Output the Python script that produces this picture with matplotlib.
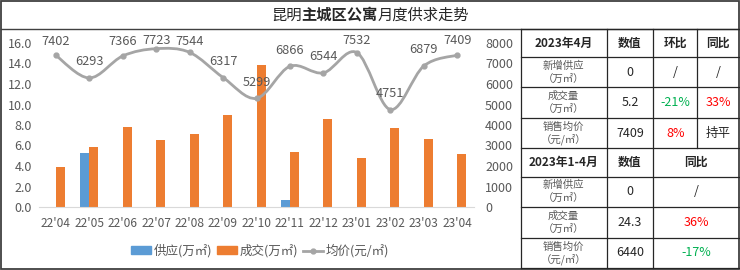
import matplotlib
matplotlib.use('Agg')
import matplotlib.pyplot as plt
from matplotlib.path import Path
from matplotlib.patches import PathPatch, Rectangle, Patch
from matplotlib.lines import Line2D

plt.rcParams['font.family'] = ['Noto Sans CJK SC', 'DejaVu Sans']

months = ["22'04", "22'05", "22'06", "22'07", "22'08", "22'09", "22'10",
          "22'11", "22'12", "23'01", "23'02", "23'03", "23'04"]
supply = [0, 5.3, 0, 0, 0, 0, 0, 0.7, 0, 0, 0, 0, 0]
deal = [3.9, 5.9, 7.8, 6.5, 7.1, 9.0, 13.9, 5.4, 8.6, 4.8, 7.7, 6.6, 5.2]
price = [7402, 6293, 7366, 7723, 7544, 6317, 5299, 6866, 6544, 7532, 4751, 6879, 7409]

t1_head = ['2023年4月', '数值', '环比', '同比']
t2_head = ['2023年1-4月', '数值', '同比']
row_names = [('新增供应', '（万㎡）'), ('成交量', '（万㎡）'), ('销售均价', '（元/㎡）')]
t1_value = ['0', '5.2', '7409']
t1_mom = ['/', '-21%', '8%']
t1_yoy = ['/', '33%', '持平']
t2_value = ['0', '24.3', '6440']
t2_yoy = ['/', '36%', '-17%']

BLUE = '#5B9BD5'
ORANGE = '#ED7D31'
LGRAY = '#A5A5A5'
TXT = '#595959'
GREEN = '#00B050'
RED = '#FF0000'

W, H = 740, 270
fig = plt.figure(figsize=(W / 100, H / 100), dpi=100)

# overlay in pixel coords (y down) for frame, title and table
ov = fig.add_axes([0, 0, 1, 1])
ov.set_xlim(0, W)
ov.set_ylim(H, 0)
ov.axis('off')


def color_of(s):
    if s.startswith('-'):
        return GREEN
    if s.endswith('%'):
        return RED
    return '#262626'


ov.add_patch(Rectangle((1, 1), 738, 267.5, fill=False, ec='#404040', lw=1.3))
ov.plot([1, 739], [29.3, 29.3], color='#404040', lw=1.0)

# title with bold middle part
pieces = [('昆明', 'normal'), ('主城区公寓', 'bold'), ('月度供求走势', 'normal')]
r = fig.canvas.get_renderer()
widths = []
for s, wt in pieces:
    t = ov.text(0, 0, s, fontsize=11, fontweight=wt)
    widths.append(t.get_window_extent(r).width)
    t.remove()
x = W / 2 - sum(widths) / 2
for (s, wt), w in zip(pieces, widths):
    ov.text(x, 15, s, fontsize=11, fontweight=wt, color='#262626', va='center', ha='left')
    x += w

# table grid
tx = [520.7, 606.7, 653.3, 697.3, 739]
ty = [29.3, 57, 87.3, 117.8, 148.3, 176.5, 207, 237.7, 268.3]
lc = '#262626'
for y in ty:
    ov.plot([tx[0], tx[-1]], [y, y], color=lc, lw=0.9)
for xv in tx[:3]:
    ov.plot([xv, xv], [ty[0], ty[-1]], color=lc, lw=0.9)
ov.plot([tx[3], tx[3]], [ty[0], ty[4]], color=lc, lw=0.9)

cx = [(tx[i] + tx[i + 1]) / 2 for i in range(4)]
cx2 = [cx[0], cx[1], (tx[2] + tx[4]) / 2]
cy = [(ty[i] + ty[i + 1]) / 2 for i in range(8)]

for i, s in enumerate(t1_head):
    ov.text(cx[i], cy[0], s, fontsize=8.5, fontweight='bold', ha='center', va='center', color='#262626')
for i, s in enumerate(t2_head):
    ov.text(cx2[i], cy[4], s, fontsize=8.5, fontweight='bold', ha='center', va='center', color='#262626')

for k in range(3):
    for base in (1, 5):
        yc = cy[base + k]
        ov.text(cx[0], yc - 6.5, row_names[k][0], fontsize=7.5, ha='center', va='center', color=TXT)
        ov.text(cx[0], yc + 6.5, row_names[k][1], fontsize=7.5, ha='center', va='center', color=TXT)
    ov.text(cx[1], cy[1 + k], t1_value[k], fontsize=9, ha='center', va='center', color='#262626')
    ov.text(cx[2], cy[1 + k], t1_mom[k], fontsize=9, ha='center', va='center', color=color_of(t1_mom[k]))
    ov.text(cx[3], cy[1 + k], t1_yoy[k], fontsize=9, ha='center', va='center', color=color_of(t1_yoy[k]))
    ov.text(cx2[1], cy[5 + k], t2_value[k], fontsize=9, ha='center', va='center', color='#262626')
    ov.text(cx2[2], cy[5 + k], t2_yoy[k], fontsize=9, ha='center', va='center', color=color_of(t2_yoy[k]))

# chart axes
left, right, top, bottom = 39, 474, 43, 207
ax = fig.add_axes([left / W, 1 - bottom / H, (right - left) / W, (bottom - top) / H])
ax.patch.set_alpha(0)
xs = list(range(len(months)))
bw = 0.27
ax.bar([i - bw / 2 for i in xs], supply, width=bw, color=BLUE, zorder=2)
ax.bar([i + bw / 2 for i in xs], deal, width=bw, color=ORANGE, zorder=2)
ax.set_xlim(-0.5, len(months) - 0.5)
ax.set_ylim(0, 16)
ax.set_yticks([0, 2, 4, 6, 8, 10, 12, 14, 16])
ax.set_yticklabels(['%.1f' % v for v in ax.get_yticks()])
ax.set_xticks(xs)
ax.set_xticklabels(months)
for sp in ('top', 'left', 'right'):
    ax.spines[sp].set_visible(False)
ax.spines['bottom'].set_color('#D9D9D9')
ax.tick_params(axis='both', length=0, labelsize=9, colors=TXT)
ax.tick_params(axis='x', pad=7, labelsize=8.6)
ax.tick_params(axis='y', pad=5)

ax2 = ax.twinx()
ax2.set_ylim(0, 8000)
ax2.set_yticks(range(0, 8001, 1000))
for sp in ('top', 'left', 'right', 'bottom'):
    ax2.spines[sp].set_visible(False)
ax2.tick_params(axis='y', length=0, labelsize=9, colors=TXT, pad=8)

# smoothed price line (Catmull-Rom as cubic Bezier)
pts = list(zip(xs, price))
verts = [pts[0]]
codes = [Path.MOVETO]
for i in range(len(pts) - 1):
    p0 = pts[max(i - 1, 0)]
    p1 = pts[i]
    p2 = pts[i + 1]
    p3 = pts[min(i + 2, len(pts) - 1)]
    c1 = (p1[0] + (p2[0] - p0[0]) / 6, p1[1] + (p2[1] - p0[1]) / 6)
    c2 = (p2[0] - (p3[0] - p1[0]) / 6, p2[1] - (p3[1] - p1[1]) / 6)
    verts += [c1, c2, p2]
    codes += [Path.CURVE4] * 3
ax2.add_patch(PathPatch(Path(verts, codes), fill=False, ec=LGRAY, lw=2.0, clip_on=False, zorder=3))
ax2.plot(xs, price, ls='none', marker='o', ms=3.5, color=LGRAY, clip_on=False, zorder=4)

# labels sit 16px above points, but not higher than the top band
px_per_unit = (bottom - top) / 8000
for xv, pv in zip(xs, price):
    py = bottom - pv * px_per_unit
    off = min(16, py - 41)
    ax2.annotate(str(pv), (xv, pv), xytext=(0, off), textcoords='offset pixels',
                 ha='center', va='center', fontsize=9.2, color=TXT, annotation_clip=False, zorder=5)

handles = [Patch(color=BLUE), Patch(color=ORANGE),
           Line2D([], [], color=LGRAY, lw=2.0, marker='o', ms=3.5)]
labels = ['供应(万㎡)', '成交(万㎡)', '均价(元/㎡)']
fig.legend(handles, labels, loc='center', bbox_to_anchor=(260 / W, 1 - 251 / H), ncol=3,
           frameon=False, fontsize=9, labelcolor=TXT, handlelength=1.6, handleheight=0.6,
           handletextpad=0.2, columnspacing=0.4)

fig.savefig('out.png', dpi=100)
